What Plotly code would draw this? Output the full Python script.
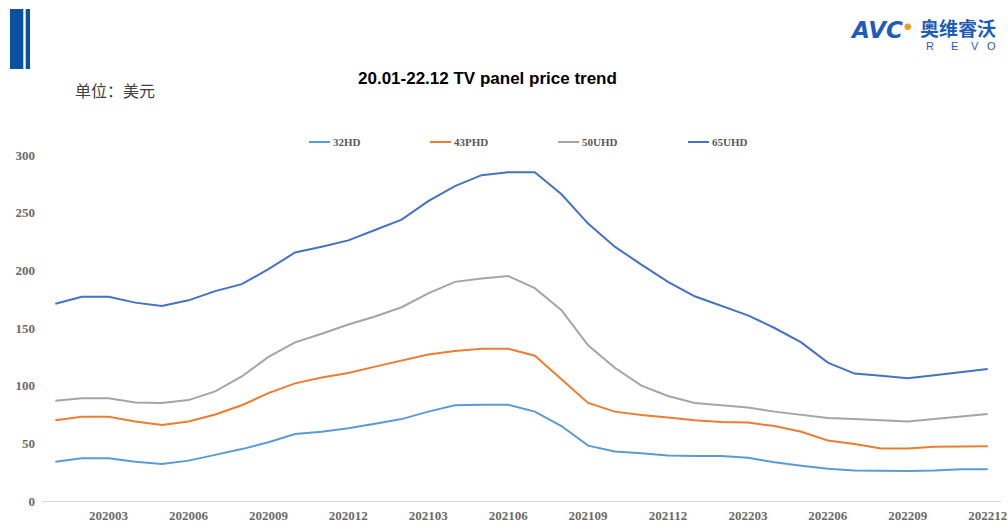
import plotly.graph_objects as go

months = [f"{y}{m:02d}" for y in (2020, 2021, 2022) for m in range(1, 13)]
tick_labels = ["202003", "202006", "202009", "202012", "202103", "202106",
               "202109", "202112", "202203", "202206", "202209", "202212"]

hd32 = [34, 37, 37, 34, 32, 35, 40, 45, 51, 58, 60, 63,
        67, 71, 77.5, 83, 83.5, 83.5, 77.5, 65, 48, 43, 41.5, 39.5,
        39, 39, 37.5, 33.5, 30.5, 28, 26.5, 26, 26, 26.5, 27.5, 27.5]
phd43 = [70, 73, 73, 69, 66, 69, 75, 83, 93.5, 102, 107, 111,
         116.5, 122, 127, 130, 132, 132, 126, 105.5, 85, 77.5, 74.5, 72.5,
         70, 68.5, 68, 65, 60, 52.5, 49.5, 45.5, 45.5, 47, 47.5, 47.5]
uhd50 = [87, 89, 89, 85.5, 85, 87.5, 95, 108, 125, 137.5, 145, 153,
         160, 168, 180, 190, 193, 195, 184.5, 165.5, 135, 115.5, 100, 91,
         85, 83, 81, 77.5, 75, 72, 71, 70, 69, 71, 73, 75.5]
uhd65 = [171, 177, 177, 172, 169, 174, 182, 188, 201, 215.5, 220.5, 226,
         235, 244, 260, 273, 282.5, 285, 285, 266, 240.5, 220.5, 205, 190,
         177.5, 169, 161, 150, 137.5, 120, 110.5, 108.5, 106.5, 109, 112, 114.5]

series_names = ["32HD", "43PHD", "50UHD", "65UHD"]
series_values = [hd32, phd43, uhd50, uhd65]
colors = ["#5B9BD5", "#ED7D31", "#A5A5A5", "#4472C4"]
y_ticks = [0, 50, 100, 150, 200, 250, 300]

W, H = 1008, 522
# plot area in page pixels
PL, PR, PT, PB = 42, 1001, 155, 501
L, R, T, B = PL, W - PR, PT, H - PB
pw, ph = W - L - R, H - T - B


def px_x(p):
    return (p - L) / pw


def px_y(p):
    return (H - B - p) / ph


fig = go.Figure()
for name, vals, col in zip(series_names, series_values, colors):
    fig.add_trace(go.Scatter(x=months, y=vals, mode="lines", name=name,
                             line=dict(color=col, width=2), showlegend=False,
                             hoverinfo="skip"))

shapes = []
annotations = []

# manual legend
leg_x = [309, 430, 558, 688]
leg_y = 142
for name, col, lx in zip(series_names, colors, leg_x):
    shapes.append(dict(type="line", xref="paper", yref="paper",
                       x0=px_x(lx), x1=px_x(lx + 21), y0=px_y(leg_y), y1=px_y(leg_y),
                       line=dict(color=col, width=2)))
    annotations.append(dict(xref="paper", yref="paper", x=px_x(lx + 22), y=px_y(leg_y),
                            xanchor="left", yanchor="middle", showarrow=False,
                            text="<b>" + name + "</b>",
                            font=dict(family="Liberation Serif", size=11,
                                      color="#595959")))

# decorative bars top-left
shapes.append(dict(type="rect", xref="paper", yref="paper",
                   x0=px_x(10), x1=px_x(23.3), y0=px_y(69), y1=px_y(9),
                   fillcolor="#0A52A0", line=dict(width=0)))
shapes.append(dict(type="rect", xref="paper", yref="paper",
                   x0=px_x(25.7), x1=px_x(30), y0=px_y(69), y1=px_y(9),
                   fillcolor="#0A52A0", line=dict(width=0)))

# title
annotations.append(dict(xref="paper", yref="paper", x=px_x(487.5), y=px_y(78),
                        xanchor="center", yanchor="middle", showarrow=False,
                        text="<b>20.01-22.12 TV panel price trend</b>",
                        font=dict(family="Liberation Sans", size=17, color="#000000")))
# unit
annotations.append(dict(xref="paper", yref="paper", x=px_x(73), y=px_y(90),
                        xanchor="left", yanchor="middle", showarrow=False,
                        text="单位：美元",
                        font=dict(family="Noto Sans CJK SC", size=16, color="#404040")))
# logo
annotations.append(dict(xref="paper", yref="paper", x=px_x(848), y=px_y(30),
                        xanchor="left", yanchor="middle", showarrow=False,
                        text="<b><i>AVC</i></b>",
                        font=dict(family="DejaVu Sans", size=23, color="#1F5BB8")))
shapes.append(dict(type="circle", xref="paper", yref="paper",
                   x0=px_x(904.5), x1=px_x(911), y0=px_y(30), y1=px_y(23.5),
                   fillcolor="#F39A1E", line=dict(width=0)))
annotations.append(dict(xref="paper", yref="paper", x=px_x(918), y=px_y(27),
                        xanchor="left", yanchor="middle", showarrow=False,
                        text="<b>奥维睿沃</b>",
                        font=dict(family="Noto Sans CJK SC", size=19, color="#1F5BB8")))
for letter, cx in zip("REVO", [930, 954, 975, 991]):
    annotations.append(dict(xref="paper", yref="paper", x=px_x(cx), y=px_y(46),
                            xanchor="center", yanchor="middle", showarrow=False,
                            text=letter,
                            font=dict(family="Liberation Sans", size=11, color="#1F5BB8")))

tick_font = dict(family="Liberation Serif", size=13, color="#6A6A6A", weight="bold")

fig.update_layout(
    width=W, height=H, autosize=False,
    margin=dict(l=L, r=R, t=T, b=B, pad=0),
    paper_bgcolor="white", plot_bgcolor="white",
    shapes=shapes, annotations=annotations,
    xaxis=dict(type="category", categoryorder="array", categoryarray=months,
               range=[-0.5, len(months) - 0.5], tickmode="array",
               tickvals=tick_labels, ticktext=tick_labels, automargin=False,
               showgrid=False, showline=True, linecolor="#D9D9D9", linewidth=1,
               ticks="", ticklabelstandoff=2, ticklabeloverflow="allow",
               tickfont=tick_font, zeroline=False),
    yaxis=dict(range=[0, 300], tickmode="array", tickvals=y_ticks, automargin=False,
               showgrid=False, showline=False, zeroline=False, ticks="",
               ticklabelstandoff=6, tickfont=tick_font),
)

fig.write_html("out.html",
               config={"displayModeBar": False, "staticPlot": True},
               post_script="document.body.style.margin='0px';"
                           "document.body.style.overflow='hidden';")
